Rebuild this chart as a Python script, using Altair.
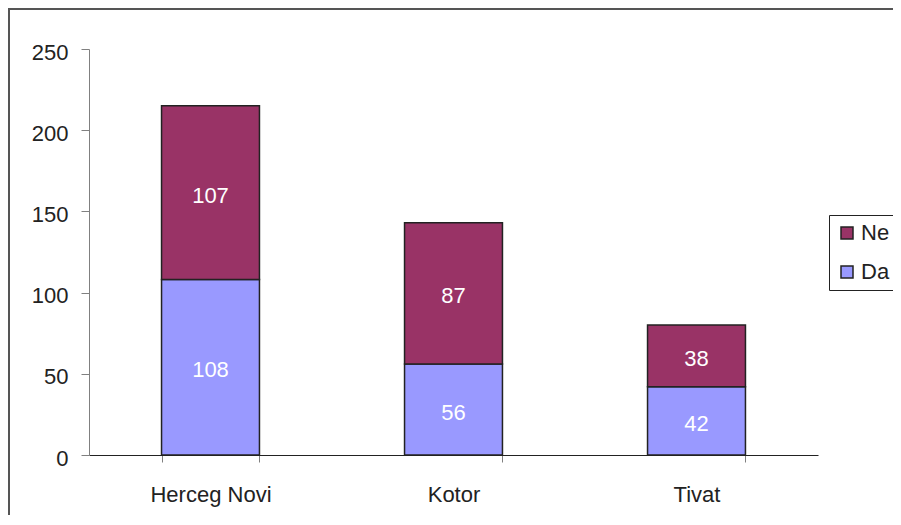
import altair as alt
import pandas as pd

cities = ["Herceg Novi", "Kotor", "Tivat"]
da_values = [108, 56, 42]
ne_values = [107, 87, 38]
series = ["Ne", "Da"]
colors = ["#993366", "#9999FF"]
y_ticks = [0, 50, 100, 150, 200, 250]

rows = []
for c, d, n in zip(cities, da_values, ne_values):
    rows.append({"city": c, "answer": "Da", "value": d, "order": 0})
    rows.append({"city": c, "answer": "Ne", "value": n, "order": 1})
df = pd.DataFrame(rows)

FONT = "Liberation Sans"
FS = 22
W, H = 729, 406

xscale = alt.Scale(domain=cities, paddingInner=0.597, paddingOuter=0.2985)
yscale = alt.Scale(domain=[0, 250], nice=False)

x_enc = alt.X(
    "city:N", sort=cities, scale=xscale,
    axis=alt.Axis(title=None, labelAngle=0, tickBand="extent", labelFont=FONT,
                  labelFontSize=FS, labelColor="#222", labelPadding=22,
                  domainColor="#222", domainWidth=1.2, tickColor="#808080",
                  tickSize=7, grid=False),
)

bars = alt.Chart(df).mark_bar(stroke="#222", strokeWidth=1.5).encode(
    x=x_enc,
    y=alt.Y("value:Q", stack="zero", scale=yscale,
            axis=alt.Axis(title=None, values=y_ticks, labelFont=FONT,
                          labelFontSize=FS, labelColor="#222", labelPadding=13,
                          labelOffset=3,
                          domainColor="#808080", tickColor="#808080",
                          tickSize=8, grid=False)),
    color=alt.Color("answer:N", scale=alt.Scale(domain=series, range=colors),
                    legend=alt.Legend(orient="none", legendX=740, legendY=166,
                                      title=None, symbolType="square",
                                      symbolSize=144, symbolStrokeColor="#222",
                                      symbolStrokeWidth=1.5, labelFont=FONT,
                                      labelFontSize=FS, labelColor="#222",
                                      strokeColor="#222", fillColor="white",
                                      padding=7, rowPadding=17, labelOffset=3)),
    order=alt.Order("order:Q"),
)

labels = alt.Chart(df).transform_stack(
    stack="value", as_=["y0", "y1"], groupby=["city"],
    sort=[alt.SortField("order")]
).transform_calculate(
    mid="(datum.y0 + datum.y1) / 2"
).mark_text(color="white", font=FONT, fontSize=FS, baseline="middle", dy=3).encode(
    x=alt.X("city:N", sort=cities, scale=xscale),
    y=alt.Y("mid:Q", scale=yscale),
    text=alt.Text("value:Q"),
)

frame_df = pd.DataFrame({"k": [0]})
top_line = alt.Chart(frame_df).mark_rule(color="#555", strokeWidth=2).encode(
    x=alt.value(-81), x2=alt.value(W + 85), y=alt.value(-40)
)
left_line = alt.Chart(frame_df).mark_rule(color="#555", strokeWidth=2).encode(
    x=alt.value(-80), y=alt.value(-41), y2=alt.value(H + 60)
)

chart = alt.layer(bars, labels, top_line, left_line).properties(
    width=W, height=H,
    background="white",
    autosize=alt.AutoSizeParams(type="none"),
    padding={"left": 81, "top": 41, "right": 75, "bottom": 60},
).configure_view(stroke=None, strokeWidth=0)

chart.save("out.html", embed_options={"renderer": "svg", "actions": False})
